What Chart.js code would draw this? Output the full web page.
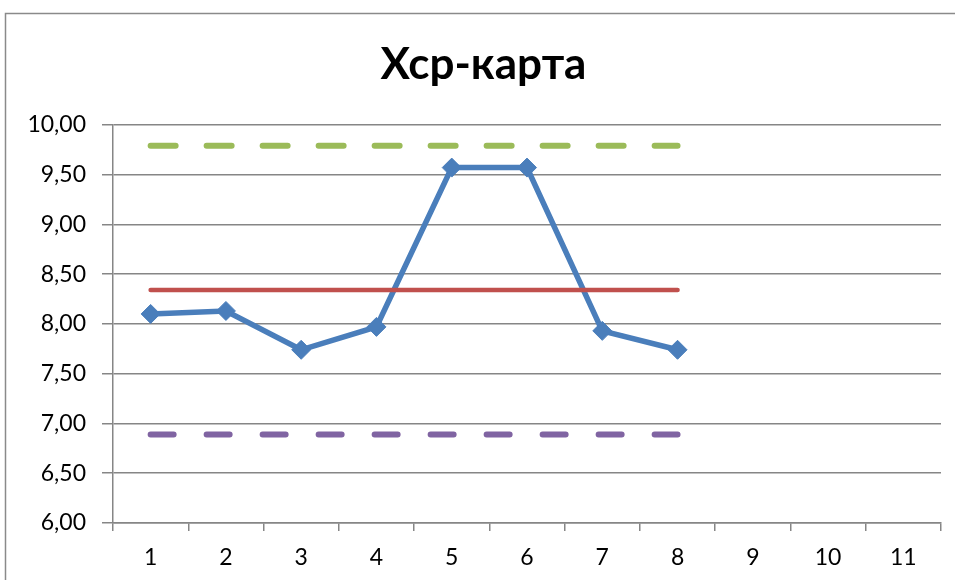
<!DOCTYPE html>
<html>
<head>
<meta charset="utf-8">
<script src="https://cdn.jsdelivr.net/npm/chart.js@4"></script>
<style>
  html, body { margin: 0; padding: 0; background: #fff; }
  #wrap { width: 955px; height: 580px; position: relative; }
</style>
</head>
<body>
<div id="wrap"><canvas id="c" width="955" height="580"></canvas></div>
<script>
// Sample numbers (subgroups)
const categories = ['1', '2', '3', '4', '5', '6', '7', '8', '9', '10', '11'];
// Subgroup means
const xMeans = [8.10, 8.13, 7.74, 7.97, 9.57, 9.57, 7.93, 7.74];
// Centre line
const centerLine = [8.34, 8.34, 8.34, 8.34, 8.34, 8.34, 8.34, 8.34];
// Upper control limit
const upperLimit = [9.79, 9.79, 9.79, 9.79, 9.79, 9.79, 9.79, 9.79];
// Lower control limit
const lowerLimit = [6.89, 6.89, 6.89, 6.89, 6.89, 6.89, 6.89, 6.89];
// Value axis
const yMin = 6, yMax = 10, yStep = 0.5;

const FONT = 'Lato, "Open Sans", "Liberation Sans", sans-serif';

// Frame around the chart block
const framePlugin = {
  id: 'frame',
  beforeDraw(chart) {
    const ctx = chart.ctx;
    ctx.save();
    ctx.strokeStyle = '#8a8a8a';
    ctx.lineWidth = 1.5;
    ctx.strokeRect(5.5, 13.5, 1000, 1000);
    ctx.restore();
  }
};

new Chart(document.getElementById('c'), {
  type: 'line',
  data: {
    labels: categories,
    datasets: [
      {
        label: 'UCL',
        data: upperLimit,
        borderColor: '#9BBB59',
        borderWidth: 6,
        borderDash: [25, 31],
        borderCapStyle: 'round',
        pointRadius: 0,
        fill: false
      },
      {
        label: 'LCL',
        data: lowerLimit,
        borderColor: '#8064A2',
        borderWidth: 6,
        borderDash: [23, 33],
        borderCapStyle: 'round',
        pointRadius: 0,
        fill: false
      },
      {
        label: 'CL',
        data: centerLine,
        borderColor: '#C0504D',
        borderWidth: 4.5,
        borderCapStyle: 'round',
        pointRadius: 0,
        fill: false
      },
      {
        label: 'Xср',
        data: xMeans,
        borderColor: '#4A7EBB',
        borderWidth: 5.5,
        pointStyle: 'rectRot',
        pointRadius: 9.5,
        pointBackgroundColor: '#4A7EBB',
        pointBorderColor: '#4A7EBB',
        pointBorderWidth: 1,
        fill: false,
        tension: 0
      }
    ]
  },
  options: {
    responsive: false,
    animation: false,
    events: [],
    layout: { padding: { top: 10, right: 14, bottom: 0, left: 26 } },
    plugins: {
      legend: { display: false },
      tooltip: { enabled: false },
      title: {
        display: true,
        text: 'Хср-карта',
        color: '#000',
        font: { family: FONT, size: 44, weight: 'bold', lineHeight: 1.2 },
        padding: { top: 28, bottom: 34 }
      }
    },
    scales: {
      x: {
        offset: true,
        grid: {
          display: true,
          offset: true,
          drawOnChartArea: false,
          drawTicks: true,
          tickLength: 8,
          color: '#868686',
          lineWidth: 1.5
        },
        border: { display: true, color: '#868686', width: 1.5 },
        ticks: {
          color: '#000',
          font: { family: FONT, size: 23 },
          padding: 13,
          maxRotation: 0
        },
        afterFit(scale) { scale.height = 57; }
      },
      y: {
        min: yMin,
        max: yMax,
        grid: {
          color: '#868686',
          lineWidth: 1.5,
          drawTicks: true,
          tickLength: 11
        },
        border: { display: true, color: '#868686', width: 1.5 },
        ticks: {
          stepSize: yStep,
          color: '#000',
          font: { family: FONT, size: 23 },
          padding: 16,
          callback: (v) => Number(v).toFixed(2).replace('.', ',')
        },
        afterFit(scale) { scale.width = 87; }
      }
    }
  },
  plugins: [framePlugin]
});
</script>
</body>
</html>
